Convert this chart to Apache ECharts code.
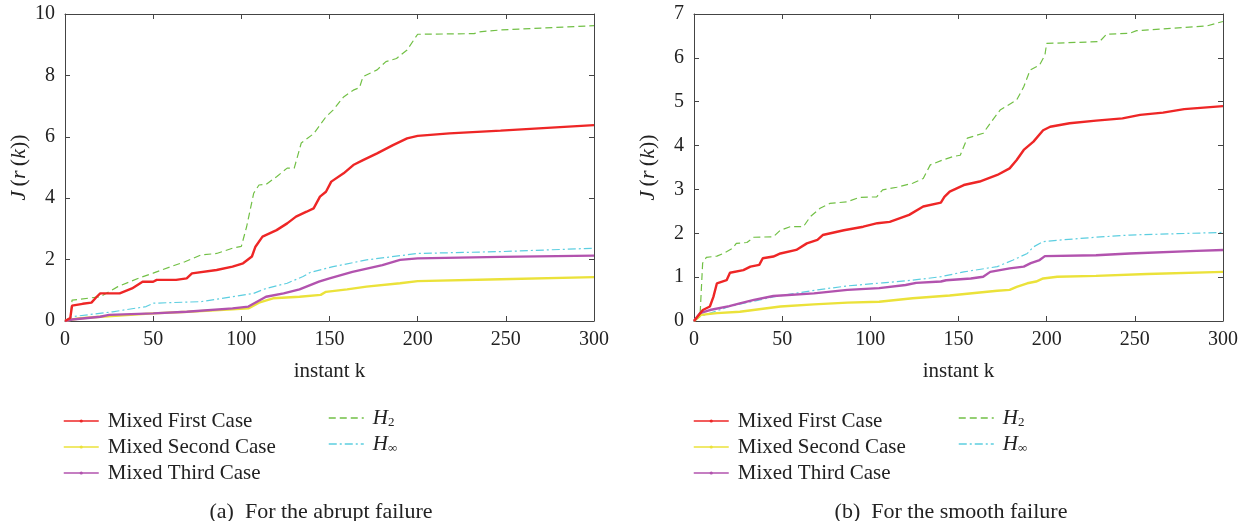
<!DOCTYPE html>
<html><head><meta charset="utf-8">
<script src="https://cdn.jsdelivr.net/npm/echarts@6/dist/echarts.min.js"></script>
<style>html,body{margin:0;padding:0;background:#fff}#c{width:1253px;height:521px}</style>
</head><body><div id="c"></div>
<script>
// ---- data (x = instant k, y = J(r(k))) ----
const seriesNames = ['Mixed First Case','Mixed Second Case','Mixed Third Case','H2','Hinf'];
const xTicks = [0,50,100,150,200,250,300];
const yTicksA = [0,2,4,6,8,10];
const yTicksB = [0,1,2,3,4,5,6,7];
const captionA = '(a)  For the abrupt failure';
const captionB = '(b)  For the smooth failure';

const abruptFirst = [[0,0],[3,0.1],[4,0.5],[10,0.56],[15,0.6],[18,0.79],[20,0.9],[31,0.9],[38,1.06],[44,1.28],[50,1.28],[52,1.34],[63,1.34],[69,1.39],[72,1.55],[86,1.66],[95,1.77],[101,1.88],[106,2.1],[108,2.42],[112,2.75],[120,2.96],[126,3.18],[131,3.4],[137,3.56],[141,3.67],[144.6,4.05],[148,4.21],[151,4.54],[158,4.81],[163.5,5.08],[169,5.24],[177,5.46],[186,5.73],[194,5.95],[200,6.03],[218,6.11],[247,6.2],[300,6.38]];
const abruptSecond = [[0,0],[4,0.05],[9,0.09],[20,0.14],[50,0.25],[70,0.3],[95,0.38],[104,0.41],[110,0.6],[118,0.74],[133,0.79],[145,0.85],[148,0.95],[160,1.03],[171,1.12],[190,1.23],[200,1.3],[247,1.36],[300,1.43]];
const abruptThird = [[0,0],[4,0.05],[20,0.14],[25,0.2],[50,0.25],[69,0.3],[95,0.41],[104,0.47],[114,0.79],[124,0.9],[133,1.03],[144,1.28],[150,1.39],[163,1.6],[180,1.82],[190,1.99],[200,2.04],[247,2.09],[300,2.13]];
const abruptH2 = [[0,0],[3,0.1],[4,0.68],[20,0.79],[30,1.12],[42,1.4],[50,1.56],[60,1.77],[68,1.93],[77,2.15],[86,2.2],[95,2.37],[100,2.43],[103,3.07],[107,4.16],[110,4.43],[114,4.45],[120,4.7],[126,4.98],[130,4.98],[134,5.8],[141,6.1],[148,6.65],[152,6.87],[158,7.3],[163.5,7.52],[167,7.6],[169,7.96],[177,8.18],[182,8.45],[188,8.55],[194,8.83],[200,9.34],[232,9.36],[235,9.42],[247,9.48],[300,9.62]];
const abruptHinf = [[0,0],[4,0.14],[27,0.3],[46,0.47],[50,0.58],[77,0.63],[95,0.79],[107,0.9],[114,1.06],[126,1.23],[135,1.45],[139,1.58],[152,1.77],[171,1.99],[200,2.2],[247,2.26],[300,2.37]];

const smoothFirst = [[0,0],[5,0.25],[9,0.33],[11,0.55],[13,0.86],[18.5,0.93],[20.4,1.1],[28,1.16],[32,1.24],[37,1.28],[39,1.43],[45,1.47],[49,1.54],[58,1.62],[64,1.77],[70,1.85],[73,1.96],[85,2.07],[96,2.15],[104,2.23],[111,2.26],[122,2.42],[130,2.61],[140,2.7],[142,2.83],[145,2.95],[153,3.1],[162,3.18],[172,3.33],[179,3.48],[183,3.67],[187,3.9],[192.5,4.09],[198,4.35],[202,4.43],[213,4.51],[228,4.57],[243,4.62],[253,4.7],[266,4.75],[278,4.83],[300,4.9]];
const smoothSecond = [[0,0],[4,0.14],[13,0.18],[26,0.21],[49,0.33],[68,0.38],[87,0.42],[105,0.44],[124,0.52],[145,0.58],[172,0.69],[179,0.71],[183,0.78],[189,0.86],[194,0.9],[198,0.97],[206,1.01],[228,1.03],[257,1.07],[300,1.12]];
const smoothThird = [[0,0],[3.4,0.18],[9,0.25],[20,0.34],[26,0.4],[34,0.48],[45,0.57],[68,0.63],[87,0.71],[105,0.75],[120,0.82],[126,0.87],[140,0.9],[143,0.93],[157,0.97],[164,1.01],[168,1.12],[179,1.2],[187,1.24],[191,1.32],[196,1.39],[199,1.48],[228,1.5],[247,1.54],[285,1.6],[300,1.62]];
const smoothH2 = [[0,0],[3.4,0.1],[4.9,1.32],[7,1.45],[13,1.48],[16.6,1.54],[22,1.66],[24,1.77],[30,1.79],[34,1.91],[45,1.92],[49,2.07],[54.5,2.15],[62,2.15],[66,2.38],[71.5,2.57],[77,2.68],[87,2.72],[94,2.82],[103.6,2.83],[107,2.99],[115,3.05],[124,3.14],[130,3.25],[134,3.56],[141,3.67],[147,3.75],[151,3.78],[155,4.17],[164,4.28],[168,4.51],[173.6,4.81],[183,5.04],[187,5.34],[190.6,5.72],[196,5.84],[199,6.06],[200,6.33],[230,6.37],[234,6.54],[247,6.56],[251,6.62],[291,6.73],[300,6.83]];
const smoothHinf = [[0,0],[3.4,0.1],[20,0.33],[45,0.55],[70,0.71],[87,0.8],[107,0.87],[124,0.93],[140,1.01],[153,1.12],[172,1.24],[181,1.39],[189,1.54],[192.5,1.69],[198,1.81],[209,1.85],[228,1.91],[247,1.96],[300,2.02]];

// ---- styling ----
const FONT = '"Liberation Serif", "DejaVu Serif", serif';
const TXT = '#222';
const AX = '#444';
const colors = ['#ee2626','#ebe23a','#b253ae','#72c046','#5ccee0'];
const styles = [
  {width:2.4,type:'solid'},{width:2.4,type:'solid'},{width:2.4,type:'solid'},
  {width:1.2,type:[7,4]},{width:1.2,type:[8,3,2,3]}
];

const chart = echarts.init(document.getElementById('c'));
const grids = [
  {left:65, top:14, width:529, height:307},
  {left:694, top:14, width:529, height:307}
];
const yMax = [10,7];
function mkX(g, pos){
  return {type:'value', gridIndex:g, min:0, max:300, interval:50, position:pos,
    axisLine:{show:true, onZero:false, lineStyle:{color:AX,width:1}},
    axisTick:{show:true, inside:true, length:5, lineStyle:{color:AX}},
    axisLabel:{show:pos==='bottom', fontFamily:FONT, fontSize:20, color:TXT, margin:9},
    splitLine:{show:false},
    name: pos==='bottom' ? 'instant k' : '', nameLocation:'middle', nameGap:40,
    nameTextStyle:{fontFamily:FONT, fontSize:21, color:TXT}};
}
function mkY(g, pos){
  return {type:'value', gridIndex:g, min:0, max:yMax[g], interval:g===0?2:1, position:pos,
    axisLine:{show:true, onZero:false, lineStyle:{color:AX,width:1}},
    axisTick:{show:true, inside:true, length:5, lineStyle:{color:AX}},
    axisLabel:{show:pos==='left', fontFamily:FONT, fontSize:20, color:TXT, margin:10},
    splitLine:{show:false},
    name: pos==='left' ? '{i|J}\u2009({i|r}\u2009({i|k}))' : '', nameLocation:'middle', nameGap:35, nameRotate:90,
    nameTextStyle:{fontFamily:FONT, fontSize:22, color:TXT, rich:{i:{fontFamily:FONT,fontSize:22,fontStyle:'italic',color:TXT}}}};
}
const xAxes = [mkX(0,'bottom'), mkX(0,'top'), mkX(1,'bottom'), mkX(1,'top')];
const yAxes = [mkY(0,'left'), mkY(0,'right'), mkY(1,'left'), mkY(1,'right')];

const panels = [
  [abruptFirst, abruptSecond, abruptThird, abruptH2, abruptHinf],
  [smoothFirst, smoothSecond, smoothThird, smoothH2, smoothHinf]
];
const series = [];
panels.forEach((arrs, p) => {
  [4,3,1,2,0].forEach(i => {
    series.push({
      type:'line', name:seriesNames[i], xAxisIndex:p*2, yAxisIndex:p*2,
      data:arrs[i], showSymbol:false, symbol:'circle', symbolSize:3,
      itemStyle:{color:colors[i]},
      lineStyle:{color:colors[i], width:styles[i].width, type:styles[i].type},
      animation:false, silent:true, z: i<3 ? 3 : 2
    });
  });
});

const legendText = {fontFamily:FONT, fontSize:21, color:TXT, lineHeight:22, padding:[0,0,0,4],
  rich:{i:{fontFamily:FONT,fontSize:21,fontStyle:'italic',color:TXT,lineHeight:22},
        s:{fontFamily:FONT,fontSize:13,color:TXT,padding:[9,0,0,0],lineHeight:22}}};
const fmt = n => n==='H2' ? '{i|H}{s|2}' : (n==='Hinf' ? '{i|H}{s|\u221E}' : n);
function mkLegend(left, data, top, dotted){
  return {left:left, top:top, orient:'vertical', data:data, itemWidth:35, itemHeight:4,
    itemGap:4, selectedMode:false, textStyle:legendText, formatter:fmt, padding:0,
    lineStyle:{width:1.5}, itemStyle: dotted ? {} : {opacity:0}};
}
const legends = [
  mkLegend(63, seriesNames.slice(0,3), 410, true),
  mkLegend(328, seriesNames.slice(3), 407, false),
  mkLegend(693, seriesNames.slice(0,3), 410, true),
  mkLegend(958, seriesNames.slice(3), 407, false)
];

chart.setOption({
  backgroundColor:'#fff',
  animation:false,
  grid: grids,
  xAxis: xAxes,
  yAxis: yAxes,
  legend: legends,
  series: series,
  title: [
    {text:captionA, left:316, top:496, textAlign:'center', textStyle:{fontFamily:FONT,fontSize:22,fontWeight:'normal',color:TXT}},
    {text:captionB, left:946, top:496, textAlign:'center', textStyle:{fontFamily:FONT,fontSize:22,fontWeight:'normal',color:TXT}}
  ]
});
</script></body></html>
